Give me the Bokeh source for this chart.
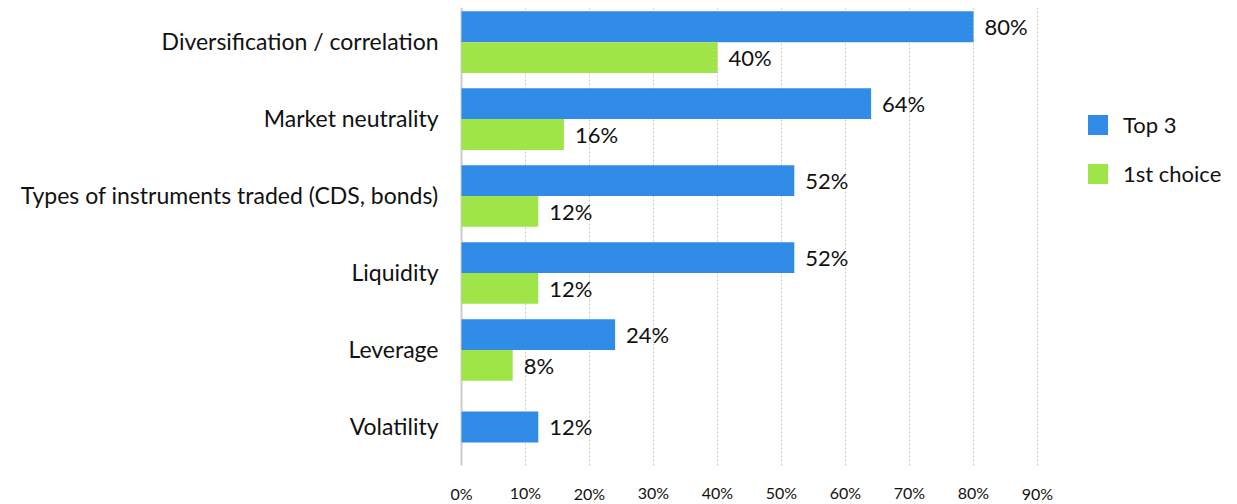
from bokeh.plotting import figure
from bokeh.models import Range1d, Legend, LegendItem, ColumnDataSource
from bokeh.embed import file_html
from bokeh.resources import INLINE
from bokeh.core.properties import value

categories = ["Diversification / correlation", "Market neutrality",
              "Types of instruments traded (CDS, bonds)", "Liquidity",
              "Leverage", "Volatility"]
top3 = [80, 64, 52, 52, 24, 12]
first_choice = [40, 16, 12, 12, 8, 0]
series_names = ["Top 3", "1st choice"]
x_ticks = [0, 10, 20, 30, 40, 50, 60, 70, 80, 90]
x_tick_labels = ["0%", "10%", "20%", "30%", "40%", "50%", "60%", "70%", "80%", "90%"]

BLUE = "#318ce7"
GREEN = "#a0e547"
FONT = "Lato"
TXT = "#111111"

W, H = 1237, 504
PX_PER_UNIT = 6.4          # pixels per percentage point
X_START = -461 / PX_PER_UNIT
X_END = (W - 461) / PX_PER_UNIT
Y_TOP = -0.45
Y_BOTTOM = 6.007
GRID_BOTTOM = 5.5

p = figure(width=W, height=H, output_backend="svg", toolbar_location=None,
           x_range=Range1d(X_START, X_END), y_range=Range1d(Y_BOTTOM, Y_TOP),
           min_border_left=0, min_border_right=0, min_border_top=7,
           min_border_bottom=0)
p.outline_line_color = None
p.background_fill_color = "white"
p.border_fill_color = "white"
p.grid.visible = False
p.xaxis.visible = False
p.yaxis.visible = False

# grid lines and left axis line
n = len(x_ticks) - 1
p.segment(x0=x_ticks[1:], x1=x_ticks[1:], y0=[Y_TOP] * n, y1=[GRID_BOTTOM] * n,
          line_color="#c8c8c8", line_dash="2 2", line_width=1)
p.segment(x0=[0], x1=[0], y0=[Y_TOP], y1=[GRID_BOTTOM], line_color="#cccccc",
          line_width=2)

OFF = 0.2
HGT = 0.4
blue_y, green_y, green_v, green_lbl = [], [], [], []
for i, (t, f) in enumerate(zip(top3, first_choice)):
    if f > 0:
        blue_y.append(i - OFF)
        green_y.append(i + OFF)
        green_v.append(f)
        green_lbl.append(f"{f}%")
    else:
        blue_y.append(i)

src_b = ColumnDataSource(dict(y=blue_y, v=top3, lbl=[f"{t}%" for t in top3]))
src_g = ColumnDataSource(dict(y=green_y, v=green_v, lbl=green_lbl))

rb = p.hbar(y="y", right="v", left=0, height=HGT, source=src_b,
            color=BLUE, line_color=None)
rg = p.hbar(y="y", right="v", left=0, height=HGT, source=src_g,
            color=GREEN, line_color=None)

for src in (src_b, src_g):
    p.text(x="v", y="y", text="lbl", source=src, x_offset=11,
           text_baseline="middle", text_align="left",
           text_font=value(FONT), text_font_size="22px", text_color=TXT)

# category labels
p.text(x=[0] * len(categories), y=list(range(len(categories))), text=categories,
       x_offset=-23, y_offset=-1, text_align="right", text_baseline="middle",
       text_font=value(FONT), text_font_size="23px", text_color=TXT)

# x tick labels (slightly staggered as in the original)
lower = {0, 20, 90}
tick_y = [5.87 if t in lower else 5.845 for t in x_ticks]
p.text(x=x_ticks, y=tick_y, text=x_tick_labels, text_align="center",
       text_baseline="middle", text_font=value(FONT), text_font_size="16px",
       text_color=TXT)

legend = Legend(items=[LegendItem(label=series_names[0], renderers=[rb]),
                       LegendItem(label=series_names[1], renderers=[rg])],
                location=(1085, 317), orientation="vertical")
legend.glyph_width = 25
legend.glyph_height = 25
legend.label_height = 25
legend.label_standoff = 13
legend.spacing = 22
legend.padding = 0
legend.margin = 0
legend.border_line_color = None
legend.background_fill_alpha = 0
legend.label_text_font = FONT
legend.label_text_font_size = "22px"
legend.label_text_color = TXT
p.add_layout(legend, "center")

open("out.html", "w").write(file_html(p, INLINE))
